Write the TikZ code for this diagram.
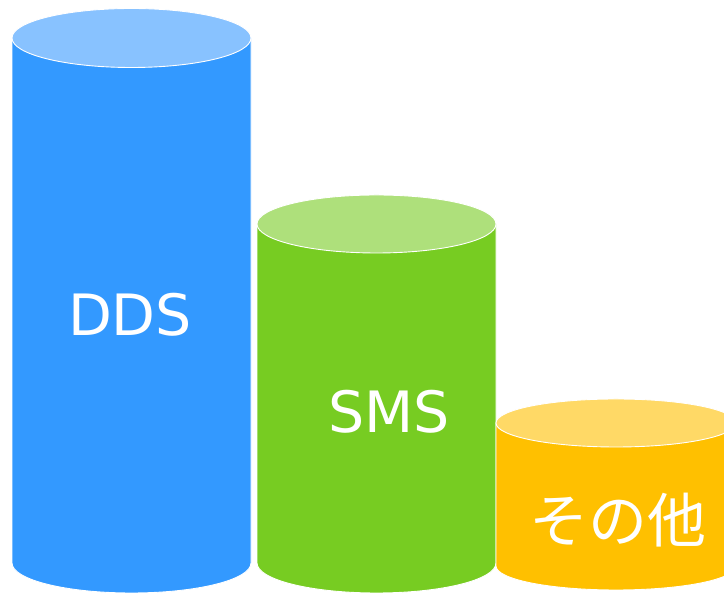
\documentclass[tikz,border=0pt]{standalone}
\usepackage{fontspec}
\usepackage{xcolor}
\usepackage{tikz}
\newfontfamily\labelfont{DejaVu Sans}
\newfontfamily\cjkfont{Noto Sans CJK JP}

\definecolor{ddsside}{HTML}{3399FF}
\definecolor{ddstop}{HTML}{88C2FF}
\definecolor{smsside}{HTML}{77CC22}
\definecolor{smstop}{HTML}{AEE07B}
\definecolor{otherside}{HTML}{FFC000}
\definecolor{othertop}{HTML}{FFD966}

\begin{document}
\begin{tikzpicture}[
    x=1pt, y=1pt,
    body/.style={draw=white, line width=0.9pt},
    lid/.style={draw=white, line width=0.9pt},
    label/.style={text=white, font=\labelfont\fontsize{57}{57}\selectfont}
]
\useasboundingbox (0,0) rectangle (724,594);
\clip (0,0) rectangle (724,594);

% DDS
\draw[body, fill=ddsside] (12,556) -- (12,31)
    arc[start angle=180, end angle=360, x radius=119.5, y radius=30] -- (251,556) -- cycle;
\draw[lid, fill=ddstop] (131.5,556) ellipse[x radius=119.5, y radius=29.5];

% SMS
\draw[body, fill=smsside] (257,370) -- (257,31)
    arc[start angle=180, end angle=360, x radius=119.5, y radius=30] -- (496,370) -- cycle;
\draw[lid, fill=smstop] (376.5,370) ellipse[x radius=119.5, y radius=29];

% others
\draw[body, fill=otherside] (496,171) -- (496,28)
    arc[start angle=180, end angle=360, x radius=120, y radius=24] -- (736,171) -- cycle;
\draw[lid, fill=othertop] (616,171) ellipse[x radius=120, y radius=24];

\node[label] (dds) at (130,279) {DDS};
\node[label] (sms) at (389,182) {SMS};
\node[label, font=\cjkfont\fontsize{59}{59}\selectfont] (other) at (618,74) {その他};
\end{tikzpicture}
\end{document}
